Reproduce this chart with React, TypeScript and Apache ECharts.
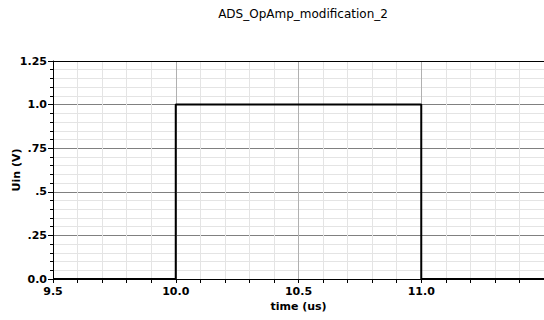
import React, { useEffect, useRef } from "react";
import * as echarts from "echarts";

const chartTitle = "ADS_OpAmp_modification_2";
const xName = "time (us)";
const yName = "Uin (V)";
const timeUs = [9.5, 10.0, 10.0, 11.0, 11.0, 11.0, 11.5];
const uinV = [0, 0, 1.0, 1.0, 0.5, 0, 0];
const xTicks = [9.5, 10.0, 10.5, 11.0, 11.5];
const xTickLabels = ["9.5", "10.0", "10.5", "11.0", ""];
const yTicks = [0, 0.25, 0.5, 0.75, 1.0, 1.25];
const yTickLabels = ["0.0", ".25", ".5", ".75", "1.0", "1.25"];

function lookup(ticks: number[], labels: string[], v: number) {
  for (let i = 0; i < ticks.length; i++) {
    if (Math.abs(ticks[i] - v) < 1e-6) return labels[i];
  }
  return "";
}

export default function App() {
  const ref = useRef<HTMLDivElement>(null);
  useEffect(() => {
    if (!ref.current) return;
    const chart = echarts.init(ref.current, undefined, { renderer: "svg" });
    const font = "DejaVu Sans";
    const labelStyle = {
      fontFamily: font,
      fontSize: 11,
      fontWeight: "bold" as const,
      color: "#000",
    };
    chart.setOption({
      animation: false,
      backgroundColor: "#fff",
      title: {
        text: chartTitle,
        left: 298,
        top: 3,
        textAlign: "center",
        textStyle: { fontFamily: font, fontSize: 12, fontWeight: "normal", color: "#000" },
      },
      grid: { left: 53, right: 0, top: 61, bottom: 41, containLabel: false, outerBoundsMode: "none" },
      xAxis: [
        {
          type: "value",
          position: "bottom",
          min: 9.5,
          max: 11.5,
          interval: 0.5,
          name: xName,
          nameLocation: "middle",
          nameGap: 22,
          nameMoveOverlap: false,
          nameTextStyle: labelStyle,
          axisLine: { show: true, onZero: false, lineStyle: { color: "#000", width: 1 } },
          axisTick: { show: true, length: 4, lineStyle: { color: "#000" } },
          minorTick: { show: true, splitNumber: 5, length: 4, lineStyle: { color: "#000" } },
          axisLabel: {
            ...labelStyle,
            margin: 7,
            showMaxLabel: false,
            formatter: (v: number) => lookup(xTicks, xTickLabels, v),
          },
          splitLine: { show: true, lineStyle: { color: "#b0b0b0", width: 1 } },
          minorSplitLine: { show: true, lineStyle: { color: "#e4e4e4", width: 1 } },
        },
        {
          type: "value",
          position: "top",
          min: 9.5,
          max: 11.5,
          axisLine: { show: true, onZero: false, lineStyle: { color: "#000", width: 1 } },
          axisTick: { show: false },
          axisLabel: { show: false },
          splitLine: { show: false },
        },
      ],
      yAxis: {
        type: "value",
        min: 0,
        max: 1.25,
        interval: 0.25,
        name: yName,
        nameLocation: "middle",
        nameGap: 37,
        nameMoveOverlap: false,
        nameRotate: 90,
        nameTextStyle: { ...labelStyle, verticalAlign: "middle" },
        axisLine: { show: true, onZero: false, lineStyle: { color: "#000", width: 1 } },
        axisTick: { show: true, length: 5, lineStyle: { color: "#000" } },
        minorTick: { show: true, splitNumber: 5, length: 3, lineStyle: { color: "#000" } },
        axisLabel: {
          ...labelStyle,
          margin: 6,
          formatter: (v: number) => lookup(yTicks, yTickLabels, v),
        },
        splitLine: { show: true, lineStyle: { color: "#808080", width: 1 } },
        minorSplitLine: { show: true, lineStyle: { color: "#e4e4e4", width: 1 } },
      },
      series: [
        {
          type: "line",
          xAxisIndex: 0,
          data: timeUs.map((t, i) => [t, uinV[i]]),
          showSymbol: false,
          symbol: "none",
          lineStyle: { color: "#000", width: 2 },
          clip: false,
        },
      ],
    });
    return () => chart.dispose();
  }, []);
  return (
    <div
      ref={ref}
      style={{ position: "fixed", left: 0, top: 0, width: 544, height: 320 }}
    />
  );
}
